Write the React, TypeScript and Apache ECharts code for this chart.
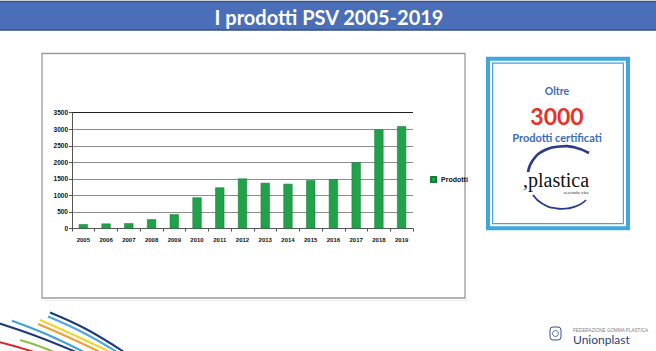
import React, { useEffect, useRef } from "react";
import * as echarts from "echarts";

const years = ["2005", "2006", "2007", "2008", "2009", "2010", "2011", "2012", "2013", "2014", "2015", "2016", "2017", "2018", "2019"];
const prodotti = [130, 150, 160, 280, 430, 940, 1240, 1510, 1380, 1350, 1460, 1490, 2000, 2990, 3090];
const seriesName = "Prodotti";
const titleText = "I prodotti PSV 2005-2019";
const boxLines = ["Oltre", "3000", "Prodotti certificati"];

const swoosh = [
  { c: "#1f3a78", p: [[50, 312.5], [86, 329], [124, 352]] },
  { c: "#4aa8e0", p: [[48, 316.5], [82, 332], [117, 352]] },
  { c: "#f2d22e", p: [[40, 320], [74, 335], [110, 352]] },
  { c: "#f39c34", p: [[38, 324], [68, 337], [100, 352]] },
  { c: "#3fa0dc", p: [[12, 320.7], [46, 334], [84, 352]] },
  { c: "#1f3a78", p: [[-2, 323], [36, 336], [76, 352]] },
  { c: "#8dbf45", p: [[20, 340], [36, 345], [54, 352]] },
  { c: "#d8232a", p: [[-2, 341.7], [14, 346], [34, 352]] },
];

export default function App() {
  const ref = useRef<HTMLDivElement>(null);
  useEffect(() => {
    document.body.style.margin = "0";
    const chart = echarts.init(ref.current!, null, { renderer: "svg" });
    const gridColors = ["#8c8c8c", "#8c8c8c", "#8c8c8c", "#8c8c8c", "#8c8c8c", "#8c8c8c", "#8c8c8c", "#222222"];
    chart.setOption({
      animation: false,
      backgroundColor: "#ffffff",
      grid: { left: 72, right: 243, top: 112.7, bottom: 122.5, containLabel: false },
      legend: {
        data: [seriesName],
        left: 425,
        top: 171,
        itemWidth: 5,
        itemHeight: 5,
        icon: "rect",
        textStyle: { fontSize: 7, fontWeight: "bold", color: "#111", fontFamily: "Liberation Sans" },
      },
      xAxis: {
        type: "category",
        data: years,
        axisLine: { lineStyle: { color: "#555", width: 1 } },
        axisTick: { show: true, length: 3, lineStyle: { color: "#555" } },
        axisLabel: { fontSize: 6, fontWeight: "bold", color: "#111", margin: 8, fontFamily: "Liberation Sans" },
      },
      yAxis: {
        type: "value",
        min: 0,
        max: 3500,
        interval: 500,
        axisLine: { show: true, lineStyle: { color: "#555" } },
        axisTick: { show: true, length: 3, lineStyle: { color: "#555" } },
        axisLabel: { fontSize: 6.5, fontWeight: "bold", color: "#111", margin: 4, fontFamily: "Liberation Sans", formatter: (v: number) => String(v) },
        splitLine: { show: true, lineStyle: { color: gridColors, width: 1 } },
      },
      series: [
        {
          name: seriesName,
          type: "bar",
          data: prodotti,
          barWidth: "40%",
          itemStyle: { color: "#21a24a", borderColor: "#177a37", borderWidth: 0.5 },
        },
      ],
      graphic: [
        // title banner
        { type: "rect", shape: { x: -1, y: 1.5, width: 658, height: 28.5 }, style: { fill: "#4a6eb8", stroke: "#34527f", lineWidth: 1.5 }, z: 10 },
        { type: "text", x: 329, y: 16.5, style: { text: titleText, fill: "#ffffff", font: "bold 20px Lato", align: "center", verticalAlign: "middle" }, z: 11 },
        // chart frame
        { type: "rect", shape: { x: 42, y: 53.5, width: 423, height: 244.5 }, style: { fill: "none", stroke: "#9a9a9a", lineWidth: 1.3 }, z: 1 },
        { type: "line", shape: { x1: 44, y1: 300.5, x2: 467, y2: 300.5 }, style: { stroke: "#ececec", lineWidth: 1 }, z: 1 },
        // right box
        { type: "rect", shape: { x: 488, y: 58.7, width: 140, height: 169.5 }, style: { fill: "#ffffff", stroke: "#3fa7dd", lineWidth: 4 }, z: 1 },
        { type: "rect", shape: { x: 492.6, y: 63.2, width: 130.8, height: 160.5 }, style: { fill: "none", stroke: "#3fa7dd", lineWidth: 1.2 }, z: 2 },
        { type: "text", x: 557, y: 91, style: { text: boxLines[0], fill: "#3d6db5", font: "bold 10.5px Lato", align: "center", verticalAlign: "middle" }, z: 3 },
        { type: "text", x: 557, y: 115.5, style: { text: boxLines[1], fill: "#e8322a", font: "bold 23px Lato", align: "center", verticalAlign: "middle" }, z: 3 },
        { type: "text", x: 557, y: 137, style: { text: boxLines[2], fill: "#3d6db5", font: "bold 11px Lato", align: "center", verticalAlign: "middle" }, z: 3 },
        // plastica logo
        { type: "polyline", shape: { points: [[528, 172], [533, 160], [545, 150], [560, 146.5], [575, 147.5], [589, 153]], smooth: 0.5 }, style: { stroke: "#2b3990", lineWidth: 2.6, fill: "none" }, z: 3 },
        { type: "polyline", shape: { points: [[533, 195], [542, 203.5], [556, 208.3], [570, 208], [580, 204.5], [586, 200]], smooth: 0.5 }, style: { stroke: "#2b3990", lineWidth: 1.8, fill: "none" }, z: 3 },
        { type: "text", x: 523, y: 180, style: { text: ",plastica", fill: "#111111", font: "20px 'Liberation Serif'", align: "left", verticalAlign: "middle" }, z: 3 },
        { type: "text", x: 576, y: 192, style: { text: "seconda vita", fill: "#333333", font: "5px 'Liberation Serif'", align: "center", verticalAlign: "middle" }, z: 3 },
        // footer line
        {
          type: "line",
          shape: { x1: 120, y1: 324.5, x2: 656, y2: 324.5 },
          style: {
            stroke: new echarts.graphic.LinearGradient(0, 0, 1, 0, [
              { offset: 0, color: "#f4f4f4" },
              { offset: 0.5, color: "#d4d9e0" },
              { offset: 1, color: "#7f93ad" },
            ]),
            lineWidth: 1.5,
          },
          z: 1,
        },
        ...swoosh.map((s) => ({ type: "polyline", shape: { points: s.p, smooth: 0.4 }, style: { stroke: s.c, lineWidth: 2, fill: "none" }, z: 2 })),
        // Unionplast logo
        { type: "rect", shape: { x: 550, y: 327, width: 11, height: 13, r: 3 }, style: { fill: "none", stroke: "#3a4f8a", lineWidth: 1 }, z: 3 },
        { type: "circle", shape: { cx: 555.5, cy: 333.5, r: 3 }, style: { fill: "none", stroke: "#3a4f8a", lineWidth: 0.8 }, z: 3 },
        { type: "text", x: 573, y: 330.5, style: { text: "FEDERAZIONE GOMMA PLASTICA", fill: "#7a7f8c", font: "4.6px 'Liberation Sans'", align: "left", verticalAlign: "middle" }, z: 3 },
        { type: "text", x: 573, y: 339.5, style: { text: "Unionplast", fill: "#2a3f7a", font: "12px Lato", align: "left", verticalAlign: "middle" }, z: 3 },
      ],
    });
    return () => chart.dispose();
  }, []);
  return <div ref={ref} style={{ position: "fixed", left: 0, top: 0, width: 656, height: 351 }} />;
}
